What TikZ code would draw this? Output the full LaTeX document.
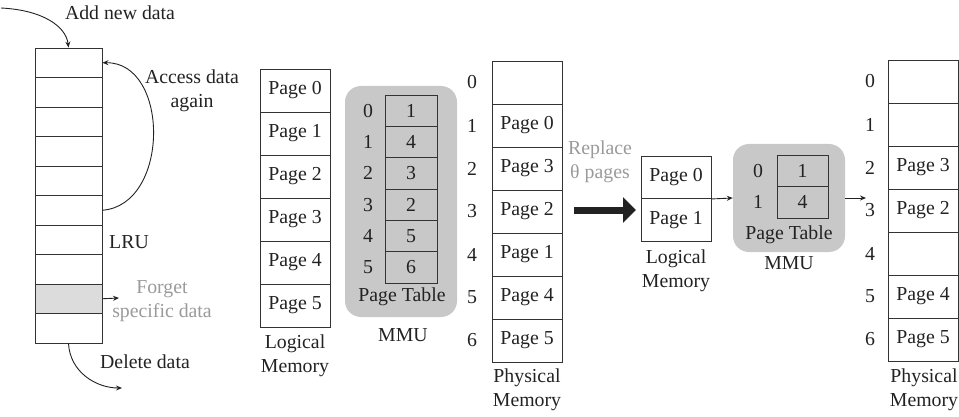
\documentclass[tikz,border=0pt]{standalone}
\usepackage{fontspec}
\setmainfont{Liberation Serif}
\usetikzlibrary{arrows.meta}
\definecolor{ink}{HTML}{222222}
\definecolor{linec}{HTML}{333333}
\definecolor{mmufill}{HTML}{C8C8C8}
\definecolor{rowfill}{HTML}{DCDCDC}
\definecolor{softtext}{HTML}{9A9A9A}
\tikzset{
  every node/.style={font=\fontsize{19.8}{23.5}\selectfont, text=ink, inner sep=0pt},
  cell/.style={draw=linec, line width=0.9pt, minimum width=70pt, minimum height=43pt},
  stackcell/.style={draw=linec, line width=0.9pt, minimum width=67pt, minimum height=29.5pt},
  ptcell/.style={draw=linec, line width=0.9pt, minimum width=52pt, minimum height=31.33pt},
  mmubox/.style={fill=mmufill, rounded corners=16pt},
  lbl/.style={align=center},
  softlbl/.style={align=center, text=softtext},
  arr/.style={draw=ink, line width=0.9pt, -{Stealth[length=6pt,width=5pt]}},
}
\begin{document}
\begin{tikzpicture}[x=1pt,y=-1pt]
\useasboundingbox (0,0) rectangle (959,417);

% ---------- LRU stack ----------
\foreach \i in {0,...,9}{
  \node[stackcell] (s\i) at (68.5,{62.75+29.5*\i}) {};
}
\fill[rowfill] (s8.north west) rectangle (s8.south east);
\node[stackcell] at (s8) {};
\node (addtxt) at (120,13) {Add new data};
\node[lbl] (acctxt) at (192,91) {Access data\\again};
\node (lru) at (129,242) {LRU};
\node[softlbl] (forget) at (162,301) {Forget\\specific data};
\node (deltxt) at (145,362) {Delete data};
\coordinate (addstart) at (1,8);
\coordinate (forgetend) at (119,298);
\coordinate (delend) at (122,388);
\draw[arr] (addstart) .. controls (42,10) and (66,26) .. (s0.north);
\draw[arr] (s5.east) .. controls (170,205) and (170,62) .. (s0.east);
\draw[arr] (s8.east) -- (forgetend);
\draw[arr] (s9.south) .. controls (70,372) and (96,388) .. (delend);

% ---------- Logical memory 1 ----------
\foreach \i in {0,...,5}{
  \node[cell] (l\i) at (295,{90.5+43*\i}) {Page \i};
}
\node[lbl] (lmtxt) at (295,356) {Logical\\Memory};

% ---------- MMU 1 ----------
\node[mmubox, minimum width=112pt, minimum height=231pt] (mmu1) at (401,201.5) {};
\foreach \v [count=\c from 0] in {1,4,3,2,5,6}{
  \node[ptcell] (p\c) at (411,{110.67+31.33*\c}) {\v};
  \node (pi\c) at (368,{110.67+31.33*\c}) {\c};
}
\node (pt1) at (402,297) {Page Table};
\node (mmu1txt) at (403,335) {MMU};

% ---------- Physical memory 1 ----------
\foreach \t [count=\c from 0] in {{},{Page 0},{Page 3},{Page 2},{Page 1},{Page 4},{Page 5}}{
  \node[cell] (f\c) at (527,{82.5+43*\c}) {\t};
  \node (fi\c) at (472,{82.5+43*\c}) {\c};
}
\node[lbl] (pmtxt) at (527,390) {Physical\\Memory};

% ---------- Replace arrow ----------
\node[softlbl] (reptxt) at (600,162) {Replace\\θ pages};
\coordinate (bigA) at (574,210);
\coordinate (bigB) at (636,210);
\draw[line width=7pt, draw=ink, -{Triangle[length=13pt,width=25pt]}] (bigA) -- (bigB);

% ---------- Logical memory 2 ----------
\node[cell, minimum height=42.5pt] (m0) at (676,177.25) {Page 0};
\node[cell, minimum height=42.5pt] (m1) at (676,219.75) {Page 1};
\node[lbl] (lm2txt) at (676,271) {Logical\\Memory};

% ---------- MMU 2 ----------
\node[mmubox, minimum width=112pt, minimum height=108pt] (mmu2) at (789,198) {};
\node[ptcell, minimum width=51pt, minimum height=31.5pt] (q0) at (802.5,170.75) {1};
\node[ptcell, minimum width=51pt, minimum height=31.5pt] (q1) at (802.5,202.25) {4};
\node (qi0) at (758,170.75) {0};
\node (qi1) at (758,202.25) {1};
\node (pt2) at (789,235) {Page Table};
\node (mmu2txt) at (789,263) {MMU};
\draw[arr] (m0.south east) -- (mmu2.west);
\coordinate (mmu2end) at (866,198);
\draw[arr] (mmu2.east) -- (mmu2end);

% ---------- Physical memory 2 ----------
\foreach \t [count=\c from 0] in {{},{},{Page 3},{Page 2},{},{Page 4},{Page 5}}{
  \node[cell] (g\c) at (923,{81.5+43*\c}) {\t};
  \node (gi\c) at (870,{81.5+43*\c}) {\c};
}
\node[lbl] (pm2txt) at (924,390) {Physical\\Memory};
\end{tikzpicture}
\end{document}
